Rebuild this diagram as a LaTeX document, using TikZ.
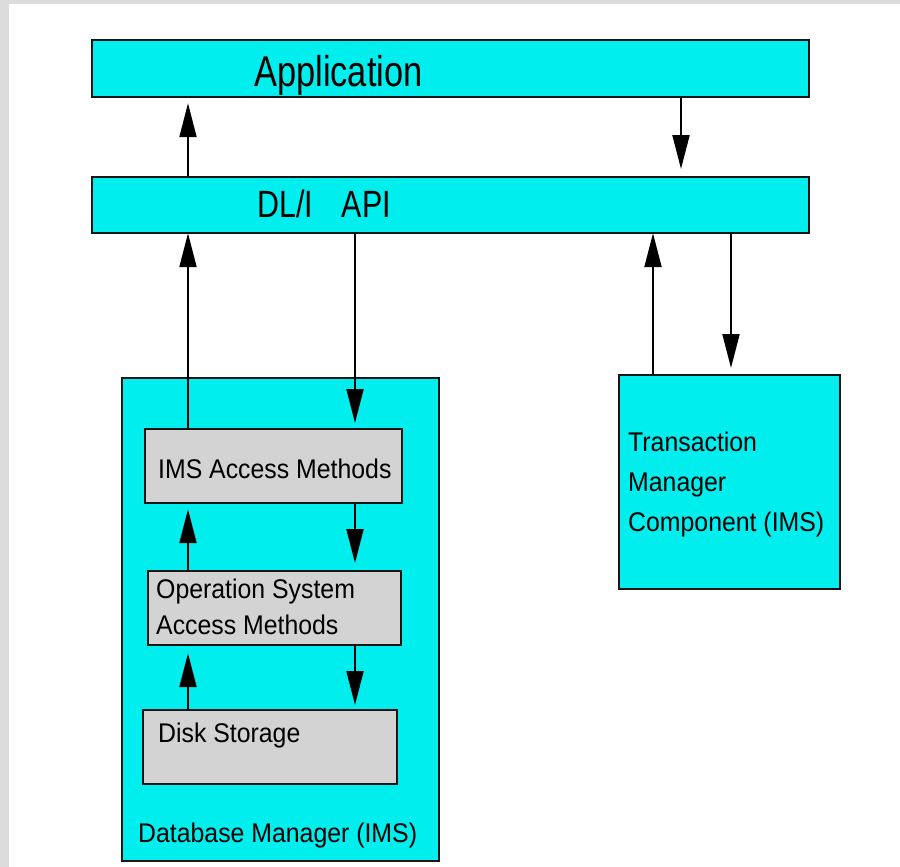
\documentclass[tikz,border=0pt]{standalone}
\usepackage{fontspec}
\setmainfont{Liberation Sans}
\newfontfamily\bigfont[FakeStretch=0.8]{Liberation Sans}
\newfontfamily\smallfont[FakeStretch=0.92]{Liberation Sans}
\usetikzlibrary{arrows.meta}
\definecolor{cy}{RGB}{0,238,238}
\definecolor{gb}{RGB}{211,211,211}
\definecolor{bggray}{RGB}{220,220,220}
\definecolor{edge}{RGB}{20,20,20}
\begin{document}
\begin{tikzpicture}[x=1pt,y=-1pt,
  cbox/.style={draw=edge, line width=2.2pt, fill=cy, anchor=north west, inner sep=0pt},
  gbox/.style={draw=edge, line width=2.2pt, fill=gb, anchor=north west, inner sep=0pt},
  lbl/.style={anchor=base west, inner sep=0pt, font=\smallfont\fontsize{27}{36}\selectfont, text=black},
  arr/.style={draw=black, line width=2pt, -{Triangle[length=34pt,width=17pt]}}]
\useasboundingbox (0,0) rectangle (900,867);
\fill[white] (0,0) rectangle (900,867);
\fill[bggray] (0,0) rectangle (900,4);
\fill[bggray] (0,0) rectangle (9,867);
% boxes
\node[cbox, minimum width=717, minimum height=57] (app) at (91,39) {};
\node[cbox, minimum width=717, minimum height=56] (dli) at (91,176) {};
\node[cbox, minimum width=317, minimum height=483] (dbm) at (121,377) {};
\node[cbox, minimum width=221, minimum height=214] (tmc) at (618,374) {};
\node[gbox, minimum width=257, minimum height=74] (ims) at (144,428) {};
\node[gbox, minimum width=253, minimum height=74] (osam) at (147,570) {};
\node[gbox, minimum width=254, minimum height=74] (disk) at (142,709) {};
% labels
\node[anchor=base west, inner sep=0pt, font=\bigfont\fontsize{43}{48}\selectfont] (tapp) at (254,86) {Application};
\node[anchor=base west, inner sep=0pt, font=\bigfont\fontsize{38}{44}\selectfont] (tdli) at (257,217) {DL/I\hspace{29pt}API};
\node[lbl] (tims) at (158,478) {IMS Access Methods};
\node[lbl, align=left] (tos) at (156,634) {Operation System\\Access Methods};
\node[lbl] (tdisk) at (158,742) {Disk Storage};
\node[lbl] (tdbm) at (138,842) {Database Manager (IMS)};
\node[lbl, align=left, font=\smallfont\fontsize{27}{40}\selectfont] (ttmc) at (628,531) {Transaction\\Manager\\Component (IMS)};
% columns
\coordinate (c1) at (188,0);
\coordinate (c2) at (681,0);
\coordinate (c3) at (355,0);
\coordinate (c4) at (653,0);
\coordinate (c5) at (731,0);
% connectors
\draw[arr, shorten >=5pt] (dli.north -| c1) -- (app.south -| c1);
\draw[arr, shorten >=7pt] (app.south -| c2) -- (dli.north -| c2);
\draw[arr, shorten >=-1pt] (ims.north -| c1) -- (dli.south -| c1);
\draw[arr, shorten >=5pt] (dli.south -| c3) -- (ims.north -| c3);
\draw[arr, shorten >=-1pt] (tmc.north -| c4) -- (dli.south -| c4);
\draw[arr, shorten >=6pt] (dli.south -| c5) -- (tmc.north -| c5);
\draw[arr, shorten >=5pt] (osam.north -| c1) -- (ims.south -| c1);
\draw[arr, shorten >=7pt] (ims.south -| c3) -- (osam.north -| c3);
\draw[arr, shorten >=7pt] (disk.north -| c1) -- (osam.south -| c1);
\draw[arr, shorten >=4pt] (osam.south -| c3) -- (disk.north -| c3);
\end{tikzpicture}
\end{document}
